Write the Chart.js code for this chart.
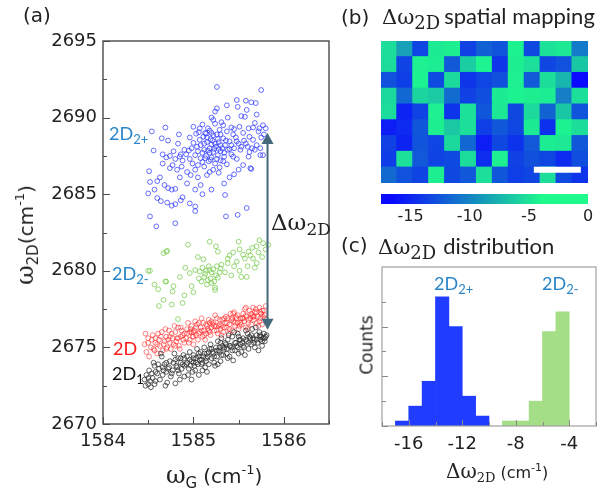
<!DOCTYPE html>
<html lang="en">
<head>
<meta charset="utf-8">
<title>Δω2D: scatter, spatial map and distribution</title>
<script src="https://cdn.jsdelivr.net/npm/chart.js@4.4.1/dist/chart.umd.min.js"></script>
<style>
html,body{margin:0;padding:0;background:#fff;}
#page{position:relative;width:613px;height:491px;overflow:hidden;background:#fff;}
#page canvas{position:absolute;}
.lbl{position:absolute;white-space:nowrap;line-height:1;color:#222;}
.lbl span{line-height:0;}
.blue{color:#2a86c9;}
.rot{transform:translate(-50%,-50%) rotate(-90deg);}
</style>
</head>
<body>
<div id="page">
  <canvas id="scatterA" width="345" height="491" style="left:0;top:0"></canvas>
  <canvas id="mapB" width="207" height="142" style="left:381px;top:41px"></canvas>
  <canvas id="barB" width="253" height="42" style="left:360px;top:188px"></canvas>
  <canvas id="histC" width="273" height="261" style="left:340px;top:230px"></canvas>

  <!-- panel letters and titles -->
  <div class="lbl" style="left:23px;top:5px;font:20px/1 'DejaVu Sans'">(a)</div>
  <div class="lbl" style="left:341px;top:7px;font:20px/1 'DejaVu Sans'">(b)</div>
  <div class="lbl" style="left:382px;top:7px;font:21px/1 'DejaVu Serif'">Δω<span style="font:18px/0 'DejaVu Serif';position:relative;top:5px">2D</span><span style="font:22px/0 Lato;margin-left:4px">spatial mapping</span></div>
  <div class="lbl" style="left:341px;top:235px;font:20px/1 'DejaVu Sans'">(c)</div>
  <div class="lbl" style="left:378px;top:237px;font:21px/1 'DejaVu Serif'">Δω<span style="font:18px/0 'DejaVu Serif';position:relative;top:5px">2D</span><span style="font:22px/0 Lato;margin-left:7px">distribution</span></div>

  <!-- panel (a) axis titles -->
  <div class="lbl rot" style="left:25px;top:235px;font:24px/1 'DejaVu Serif'">ω<span style="font:15px/0 'DejaVu Sans';position:relative;top:5px">2D</span><span style="font:20px/0 'DejaVu Sans'">(cm<span style="font:13px/0 'DejaVu Sans';position:relative;top:-9px">-1</span>)</span></div>
  <div class="lbl" style="left:166px;top:463px;font:24px/1 'DejaVu Serif'">ω<span style="font:15px/0 'DejaVu Sans';position:relative;top:5px">G</span><span style="font:20px/0 'DejaVu Sans';margin-left:6px">(cm<span style="font:13px/0 'DejaVu Sans';position:relative;top:-9px">-1</span>)</span></div>

  <!-- panel (a) series labels -->
  <div class="lbl blue" style="left:109px;top:124px;font:18px/1 Lato">2D<span style="font:13px/0 Lato;position:relative;top:4px">2+</span></div>
  <div class="lbl blue" style="left:112px;top:264px;font:18px/1 Lato">2D<span style="font:13px/0 Lato;position:relative;top:4px">2-</span></div>
  <div class="lbl" style="left:113px;top:339px;font:18px/1 Lato;color:#ff1a1a">2D</div>
  <div class="lbl" style="left:112px;top:364px;font:18px/1 Lato;color:#111">2D<span style="font:13px/0 Lato;position:relative;top:4px">1</span></div>
  <div class="lbl" style="left:271px;top:211px;font:23px/1 'DejaVu Serif'">Δω<span style="font:17px/0 'DejaVu Serif';position:relative;top:5px">2D</span></div>

  <!-- panel (c) labels -->
  <div class="lbl blue" style="left:434px;top:274px;font:18px/1 Lato">2D<span style="font:13px/0 Lato;position:relative;top:4px">2+</span></div>
  <div class="lbl blue" style="left:542px;top:274px;font:18px/1 Lato">2D<span style="font:13px/0 Lato;position:relative;top:4px">2-</span></div>
  <div class="lbl rot" style="left:367px;top:345px;font:17px/1 'DejaVu Sans'">Counts</div>
  <div class="lbl" style="left:446px;top:461px;font:20px/1 'DejaVu Serif'">Δω<span style="font:13px/0 'DejaVu Serif';position:relative;top:4px">2D</span><span style="font:16px/0 'DejaVu Sans';margin-left:5px">(cm<span style="font:11px/0 'DejaVu Sans';position:relative;top:-7px">-1</span>)</span></div>
</div>

<script>
// ---------- panel (a): 2D-band positions vs G-band position (cm-1) ----------
const pts2Dplus = [
  [1585.26,2692.0],[1585.75,2691.8],[1585.48,2691.15],[1585.58,2691.1],[1585.64,2691.0],[1585.69,2690.95],
  [1585.37,2690.8],[1585.26,2690.6],[1585.24,2690.4],[1585.49,2690.7],[1585.59,2690.5],[1585.7,2690.2],
  [1585.53,2690.1],[1585.57,2690.05],[1585.38,2690.0],[1585.2,2690.0],[1585.22,2689.85],[1585.31,2689.7],
  [1584.69,2689.35],[1584.54,2689.1],[1584.65,2688.65],[1584.72,2688.5],[1584.56,2687.85],[1584.83,2688.3],[1584.84,2688.9],
  [1585.77,2689.5],[1585.73,2689.3],[1585.72,2689.1],[1585.78,2688.9],[1585.66,2689.35],[1585.61,2689.3],
  [1585.51,2689.4],[1585.45,2689.25],[1585.55,2689.0],[1585.62,2688.75],[1585.66,2688.55],[1585.6,2688.1],
  [1585.62,2687.75],[1585.61,2687.45],[1585.74,2687.55],[1585.77,2687.55],[1585.7,2688.2],[1585.75,2688.7],[1585.68,2689.65],
  [1585.07,2689.3],[1585.06,2689.05],[1585.16,2689.3],[1585.24,2689.6],[1585.29,2689.2],[1585.37,2689.1],
  [1585.44,2688.9],[1585.11,2688.75],[1585.22,2688.85],[1584.96,2688.7],[1585.0,2689.4],[1585.03,2688.95],
  [1585.13,2689.0],[1585.19,2688.6],[1585.26,2688.9],[1585.33,2688.65],[1585.4,2688.45],[1585.47,2688.7],
  [1585.5,2688.3],[1585.35,2688.2],[1585.28,2688.4],[1585.2,2688.25],[1585.15,2688.4],[1585.08,2688.2],
  [1585.0,2688.35],[1584.98,2688.0],[1585.05,2687.8],[1585.12,2687.9],[1585.18,2687.7],[1585.23,2687.95],
  [1585.3,2687.8],[1585.38,2687.9],[1585.45,2688.0],[1585.42,2687.6],[1585.34,2687.45],[1585.27,2687.55],
  [1585.2,2687.4],[1585.14,2687.5],[1585.08,2687.35],[1585.02,2687.55],[1584.96,2687.3],[1585.1,2687.1],
  [1585.17,2687.15],[1585.24,2687.0],[1585.3,2687.2],[1585.37,2686.95],[1585.29,2686.75],[1585.22,2686.6],
  [1585.18,2686.45],[1585.28,2686.4],[1585.12,2686.8],[1585.05,2686.9],[1585.48,2687.3],[1585.52,2687.9],
  [1585.56,2688.5],[1585.42,2689.35],[1585.33,2689.5],[1585.18,2689.15],[1585.1,2689.55],[1585.25,2688.1],[1585.32,2688.0],
  [1585.15,2688.7],[1585.21,2688.5],[1585.27,2688.6],[1585.12,2688.3],[1585.18,2688.0],[1585.24,2688.3],
  [1585.3,2688.2],[1585.36,2688.5],[1585.42,2688.2],[1585.07,2688.55],[1585.04,2688.1],[1585.1,2687.7],
  [1585.16,2687.85],[1585.22,2687.75],[1585.28,2687.95],[1585.34,2687.7],[1585.4,2687.95],[1585.48,2688.45],
  [1585.53,2688.1],[1585.58,2688.3],[1585.19,2687.25],[1585.26,2687.3],[1585.13,2687.35],[1584.99,2687.0],
  [1585.33,2687.15],[1585.2,2689.0],[1585.3,2688.9],[1585.14,2688.95],[1584.86,2687.6],[1584.95,2687.85],
  [1585.44,2687.45],[1585.65,2688.0],[1585.68,2687.9],[1585.02,2686.6],[1585.15,2686.25],
  [1584.66,2687.6],[1584.7,2687.4],[1584.74,2687.5],[1584.8,2687.3],[1584.85,2687.45],[1584.88,2687.2],
  [1584.92,2687.6],[1584.9,2687.9],[1584.78,2687.8],[1584.66,2687.0],[1584.74,2686.7],[1584.77,2686.9],
  [1584.82,2686.6],[1584.87,2686.8],[1584.93,2686.45],[1584.97,2686.25],[1584.51,2686.5],[1584.52,2685.8],
  [1584.6,2685.85],[1584.63,2686.1],[1584.68,2685.6],[1584.72,2685.4],[1584.76,2685.3],[1584.8,2685.35],
  [1584.57,2685.3],[1584.5,2685.05],[1584.6,2684.75],[1584.64,2684.55],[1584.71,2684.45],[1584.76,2684.25],
  [1584.8,2684.35],[1584.86,2684.6],[1584.88,2684.8],[1584.96,2684.4],[1585.02,2684.2],[1585.05,2686.1],
  [1585.08,2685.6],[1585.1,2685.0],[1585.02,2685.3],[1585.2,2685.3],[1584.93,2685.7],[1584.85,2686.1],
  [1585.02,2683.9],[1584.52,2683.55],[1584.59,2682.9],[1584.8,2683.1],
  [1585.34,2685.7],[1585.35,2684.95],[1585.63,2686.7],[1585.64,2686.65],[1585.59,2684.1],[1585.49,2683.65],
  [1585.36,2683.55],[1585.45,2686.3],[1585.4,2686.1],[1585.55,2686.9],[1585.5,2686.6],[1585.74,2688.0],[1585.8,2689.3]
];
const pts2Dminus = [
  [1585.18,2681.9],[1585.5,2681.9],[1585.7,2681.6],[1585.77,2681.8],[1584.94,2681.7],[1584.71,2681.3],
  [1584.67,2681.15],[1585.25,2681.6],[1585.27,2681.25],[1585.05,2680.9],[1585.11,2680.75],[1585.73,2682.0],
  [1585.83,2681.7],[1585.51,2681.4],[1585.61,2681.25],[1585.4,2681.0],[1585.38,2680.8],[1584.52,2680.0],
  [1584.57,2679.1],[1584.69,2679.3],[1584.78,2679.0],[1584.85,2679.6],[1584.91,2680.2],[1584.96,2679.85],
  [1585.02,2680.05],[1585.07,2679.95],
  [1585.1,2680.2],[1585.14,2680.0],[1585.17,2680.3],[1585.2,2679.9],[1585.22,2680.1],[1585.25,2679.7],
  [1585.12,2679.6],[1585.16,2679.4],[1585.19,2679.5],[1585.23,2679.3],[1585.27,2679.55],[1585.29,2679.9],
  [1585.09,2679.3],[1585.13,2679.8],[1585.18,2680.05],[1585.26,2680.3],[1585.3,2680.15],[1585.2,2679.2],
  [1585.15,2679.1],[1585.06,2679.5],[1585.24,2678.9],
  [1585.31,2680.4],[1585.42,2679.7],[1585.51,2680.0],[1585.59,2679.6],[1585.68,2680.2],[1585.7,2680.5],
  [1585.66,2680.8],[1585.57,2680.8],[1585.53,2679.6],[1585.45,2680.3],[1585.48,2680.6],[1585.6,2680.3],
  [1585.63,2681.0],[1585.72,2681.2],[1585.76,2680.9],[1585.8,2681.4],[1585.65,2681.5],[1585.55,2681.05],
  [1585.35,2679.9],[1585.38,2680.5],[1585.44,2681.2],
  [1585.24,2678.75],[1584.98,2679.0],[1584.77,2678.65],[1584.83,2676.85],[1584.67,2678.1],[1584.76,2677.8],
  [1584.88,2677.9],[1584.5,2680.0],[1584.61,2678.8],[1584.7,2679.3],[1584.7,2681.25],[1584.9,2678.4],
  [1585.0,2678.6],[1584.62,2677.7]
];
const pts2D = [
  [1584.46,2675.2],[1584.48,2674.7],[1584.5,2675.6],[1584.51,2674.4],[1584.53,2675.0],[1584.55,2675.8],
  [1584.56,2674.9],[1584.58,2675.3],[1584.6,2674.6],[1584.47,2675.9],
  [1584.62,2675.5],[1584.63,2675.1],[1584.65,2676.0],[1584.66,2674.8],[1584.68,2675.4],[1584.7,2675.7],
  [1584.71,2675.0],[1584.73,2676.1],[1584.74,2675.3],[1584.75,2674.9],[1584.64,2675.7],[1584.69,2676.2],
  [1584.77,2675.6],[1584.78,2675.2],[1584.8,2676.0],[1584.81,2675.4],[1584.83,2676.3],[1584.84,2675.1],
  [1584.86,2675.7],[1584.87,2676.1],[1584.89,2675.5],[1584.9,2675.9],[1584.79,2676.4],[1584.85,2674.9],
  [1584.92,2675.6],[1584.93,2676.2],[1584.95,2675.3],[1584.96,2676.0],[1584.98,2676.4],[1584.99,2675.7],
  [1585.0,2675.2],[1585.01,2676.1],[1585.03,2675.8],[1585.04,2676.5],[1585.05,2675.5],[1584.94,2676.6],[1585.02,2676.7],
  [1585.07,2676.0],[1585.08,2676.3],[1585.1,2675.7],[1585.11,2676.6],[1585.12,2676.1],[1585.14,2675.9],
  [1585.15,2676.4],[1585.17,2676.8],[1585.18,2676.0],[1585.2,2676.3],[1585.13,2675.5],[1585.19,2675.8],[1585.09,2676.9],
  [1585.22,2676.6],[1585.23,2676.1],[1585.25,2676.4],[1585.26,2676.9],[1585.27,2675.9],[1585.29,2676.5],
  [1585.3,2676.2],[1585.32,2676.8],[1585.33,2676.0],[1585.35,2676.6],[1585.24,2677.1],[1585.31,2675.8],
  [1585.37,2676.3],[1585.38,2676.9],[1585.4,2676.5],[1585.41,2677.2],[1585.43,2676.1],[1585.44,2676.7],
  [1585.46,2676.4],[1585.47,2677.0],[1585.49,2676.6],[1585.5,2676.2],[1585.39,2675.9],[1585.45,2677.3],
  [1585.52,2676.9],[1585.53,2676.5],[1585.55,2677.2],[1585.56,2676.7],[1585.58,2676.3],[1585.59,2677.0],
  [1585.61,2676.8],[1585.62,2677.4],[1585.64,2676.5],[1585.65,2677.1],[1585.57,2677.5],[1585.6,2676.2],
  [1585.67,2676.8],[1585.68,2677.3],[1585.7,2676.6],[1585.71,2677.0],[1585.73,2677.6],[1585.74,2676.9],
  [1585.75,2677.2],[1585.76,2676.5],[1585.78,2677.4],[1585.79,2676.9],[1585.8,2677.7],[1585.72,2676.4],
  [1585.77,2677.0],[1585.69,2677.5],
  [1584.6,2675.2],[1584.72,2675.5],[1584.88,2675.8],[1585.0,2676.0],[1585.16,2676.2],[1585.28,2676.4],
  [1585.42,2676.8],[1585.54,2676.9],[1585.66,2677.0],[1585.06,2675.9],[1585.34,2676.3],[1585.48,2676.9],
  [1584.82,2675.6],[1584.96,2675.5],[1585.21,2676.5],[1585.36,2677.0],[1585.51,2676.4],[1585.63,2676.9],[1585.74,2677.3],
  [1584.5,2675.3],[1584.54,2675.5],[1584.57,2674.8],[1584.61,2675.9],[1584.67,2675.2],[1584.7,2674.9],
  [1584.76,2675.9],[1584.8,2675.1],[1584.83,2675.6],[1584.86,2676.3],[1584.9,2675.3],[1584.93,2675.9],
  [1584.97,2676.2],[1585.0,2675.7],[1585.03,2676.3],[1585.06,2676.6],[1585.09,2676.1],[1585.12,2675.8],
  [1585.14,2676.5],[1585.17,2676.1],[1585.2,2676.7],[1585.23,2676.4],[1585.26,2676.1],[1585.29,2676.8],
  [1585.31,2676.4],[1585.34,2676.9],[1585.37,2676.6],[1585.4,2676.2],[1585.43,2676.9],[1585.46,2676.6],
  [1585.49,2677.1],[1585.52,2676.6],[1585.55,2676.9],[1585.58,2677.1],[1585.61,2676.6],[1585.64,2677.2],
  [1585.67,2677.0],[1585.7,2677.3],[1585.73,2676.7],[1585.76,2677.4],[1585.79,2677.1],[1585.58,2677.6],
  [1585.66,2677.6],[1585.44,2677.2],[1585.18,2676.6],[1584.98,2676.0],[1584.74,2675.7],[1584.58,2675.6]
];
const pts2D1 = [
  [1584.46,2672.9],[1584.48,2673.2],[1584.5,2672.6],[1584.51,2673.5],[1584.53,2672.4],[1584.55,2673.0],
  [1584.57,2673.8],[1584.58,2672.8],[1584.6,2673.3],[1584.47,2672.5],[1584.56,2674.0],
  [1584.62,2673.6],[1584.63,2672.9],[1584.65,2674.4],[1584.66,2673.2],[1584.68,2673.9],[1584.7,2673.4],
  [1584.71,2672.7],[1584.73,2673.7],[1584.74,2674.1],[1584.75,2673.1],[1584.64,2674.6],[1584.69,2672.5],
  [1584.77,2673.5],[1584.78,2674.0],[1584.8,2672.65],[1584.81,2673.8],[1584.83,2674.3],[1584.84,2673.3],
  [1584.86,2674.0],[1584.87,2673.6],[1584.89,2674.5],[1584.9,2673.1],[1584.79,2674.6],[1584.85,2672.9],
  [1584.92,2673.9],[1584.93,2674.4],[1584.95,2673.6],[1584.96,2674.7],[1584.98,2674.1],[1584.99,2673.4],
  [1585.0,2674.5],[1585.01,2673.8],[1585.03,2674.3],[1585.04,2674.9],[1585.05,2673.9],[1584.94,2673.2],[1585.02,2673.5],
  [1585.07,2674.2],[1585.08,2674.7],[1585.1,2673.5],[1585.11,2674.4],[1585.12,2675.0],[1585.14,2674.1],
  [1585.15,2674.6],[1585.17,2673.9],[1585.18,2674.9],[1585.2,2674.3],[1585.13,2673.7],[1585.19,2675.2],[1585.09,2673.9],
  [1585.22,2674.6],[1585.23,2674.0],[1585.25,2675.0],[1585.26,2674.4],[1585.27,2675.4],[1585.29,2674.7],
  [1585.3,2674.1],[1585.32,2675.1],[1585.33,2674.5],[1585.35,2675.3],[1585.24,2673.8],[1585.31,2675.6],
  [1585.37,2674.9],[1585.38,2675.5],[1585.4,2674.4],[1585.41,2675.1],[1585.43,2675.7],[1585.44,2674.15],
  [1585.46,2674.8],[1585.47,2675.3],[1585.49,2675.9],[1585.5,2674.6],[1585.39,2675.8],[1585.45,2676.0],
  [1585.52,2675.2],[1585.53,2674.7],[1585.55,2675.6],[1585.56,2675.0],[1585.58,2676.1],[1585.59,2675.4],
  [1585.61,2674.9],[1585.62,2675.7],[1585.64,2675.2],[1585.65,2676.2],[1585.57,2674.5],[1585.6,2675.9],
  [1585.67,2675.5],[1585.68,2675.0],[1585.7,2675.8],[1585.71,2675.3],[1585.73,2676.0],[1585.74,2675.5],
  [1585.75,2675.7],[1585.76,2675.1],[1585.78,2675.9],[1585.79,2675.4],[1585.8,2675.7],[1585.72,2674.8],
  [1585.77,2675.6],[1585.69,2676.3],[1585.81,2675.8],
  [1584.58,2673.4],[1584.72,2673.6],[1584.88,2673.9],[1585.0,2674.0],[1585.16,2674.4],[1585.28,2674.8],
  [1585.42,2675.0],[1585.54,2675.3],[1585.66,2675.6],[1585.06,2674.4],[1585.34,2674.9],[1585.48,2675.1],
  [1584.82,2673.7],[1584.96,2674.2],[1585.21,2674.7],[1585.36,2675.2],[1585.51,2675.5],[1585.63,2675.6],
  [1585.74,2675.8],[1585.06,2673.2],[1584.98,2672.9],[1585.38,2674.3],
  [1584.5,2673.0],[1584.54,2673.3],[1584.57,2672.6],[1584.61,2673.9],[1584.67,2673.5],[1584.7,2674.0],
  [1584.76,2673.3],[1584.8,2674.2],[1584.83,2673.5],[1584.86,2674.3],[1584.9,2673.8],[1584.93,2674.0],
  [1584.97,2673.8],[1585.0,2674.3],[1585.03,2674.0],[1585.06,2674.6],[1585.09,2674.2],[1585.12,2674.6],
  [1585.14,2674.3],[1585.17,2674.7],[1585.2,2674.9],[1585.23,2674.4],[1585.26,2674.8],[1585.29,2675.0],
  [1585.31,2674.5],[1585.34,2675.0],[1585.37,2674.6],[1585.4,2675.1],[1585.43,2674.8],[1585.46,2675.3],
  [1585.49,2675.0],[1585.52,2675.5],[1585.55,2675.1],[1585.58,2675.5],[1585.61,2675.3],[1585.64,2675.8],
  [1585.67,2675.3],[1585.7,2675.5],[1585.73,2675.7],[1585.76,2675.4],[1585.79,2675.6],[1585.5,2675.7],
  [1585.3,2675.3],[1585.1,2674.0],[1584.9,2674.3],[1584.66,2673.7],[1584.52,2672.8],[1585.15,2673.4],[1585.27,2673.9]
];
// splitting arrow between the 2D2+ and 2D1 groups
const arrowX = 1585.82, arrowTop = 2689.0, arrowBottom = 2676.15;

// ---------- panel (b): Δω2D map, 9 rows (top to bottom) x 13 columns, cm-1 ----------
const mapColumns = ['1','2','3','4','5','6','7','8','9','10','11','12','13'];
const mapRows = [
  [-5.3, -8.5,-13.4, -4.6, -4.4,-13.6,-11.9,-12.6, -4.2,-13.2, -5.1, -4.7,-10.5],
  [-5.4,-13.5, -4.3, -4.5,-12.3, -6.2, -4.1,-14.1, -4.4, -5.2,-13.3,-12.7, -6.5],
  [-12.7,-13.7,-4.2,-13.1, -5.5,-14.2,-13.4,-12.8, -4.3,-12.2, -5.3, -7.5,-16.5],
  [-5.6,-11.5, -5.8, -6.3,-11.3,-13.6,-12.9, -4.6, -4.2, -4.4, -4.5,-10.3, -5.2],
  [-5.4,-15.2,-13.5, -4.3,-14.3, -5.1,-12.5, -4.8,-13.2, -5.5,-11.8, -6.5,-12.6],
  [-15.5,-14.8,-12.5,-4.4, -6.4, -5.2,-13.7,-12.4,-13.3, -4.6,-14.5, -4.2, -5.3],
  [-13.6,-15.1,-12.6,-13.4,-5.6,-11.6,-15.5,-13.2,-14.4,-12.3, -4.5, -4.7,-12.4],
  [-13.8, -5.1,-12.3,-13.5,-13.1,-5.4,-14.6, -4.3,-13.6,-12.8,-13.3,-14.7,-12.9],
  [-11.4,-12.7,-13.5, -4.4,-13.2,-12.4, -5.2,-12.5,-13.7,-13.4, -5.3,-13.1,-14.3]
];
const colorbarMin = -17.5, colorbarMax = 0;
const colorbarTicks = [-15, -10, -5, 0];

// ---------- panel (c): Δω2D histogram (1 cm-1 bins) ----------
const bins2Dplus = [-16.5,-15.5,-14.5,-13.5,-12.5,-11.5,-10.5];
const counts2Dplus = [1,4,9,26,20,6,2];
const bins2Dminus = [-8.5,-7.5,-6.5,-5.5,-4.5];
const counts2Dminus = [1,1,5,19,23];

// colour scale: blue -> spring green
const CMAP_LO = -16.5, CMAP_HI = -3.8;
function cmap(v){
  const t = Math.min(1, Math.max(0, (v - CMAP_LO) / (CMAP_HI - CMAP_LO)));
  return `rgb(${Math.round(10+20*t)},${Math.round(10+240*t)},${Math.round(255-115*t)})`;
}

// ticks drawn on the inside of the plot frame
function innerTicks(spec){
  return {id:'innerTicks', afterDraw(chart){
    const {ctx, chartArea:a} = chart;
    ctx.save(); ctx.strokeStyle = spec.color; ctx.lineWidth = 1; ctx.beginPath();
    for (const id of Object.keys(spec.axes)){
      const s = spec.axes[id], sc = chart.scales[id];
      sc.ticks.forEach(t => {
        const v = t.value;
        if (Math.abs(v/s.step - Math.round(v/s.step)) > 1e-6) return;
        const major = Math.abs(v/s.major - Math.round(v/s.major)) < 1e-6;
        const len = major ? spec.major : spec.minor;
        const p = Math.round(sc.getPixelForValue(v)) + 0.5;
        if (id === 'x'){ ctx.moveTo(p, a.bottom); ctx.lineTo(p, a.bottom - len); }
        else { ctx.moveTo(a.left, p); ctx.lineTo(a.left + len, p); }
      });
    }
    ctx.stroke(); ctx.restore();
  }};
}
function frame(color, width){
  return {id:'frame', afterDraw(chart){
    const {ctx, chartArea:a} = chart;
    ctx.save(); ctx.strokeStyle = color; ctx.lineWidth = width;
    ctx.strokeRect(a.left, a.top, a.right - a.left, a.bottom - a.top);
    ctx.restore();
  }};
}
const gapArrow = {id:'gapArrow', afterDatasetsDraw(chart){
  const {ctx, scales:{x, y}} = chart;
  const px = x.getPixelForValue(arrowX);
  const y1 = y.getPixelForValue(arrowTop), y2 = y.getPixelForValue(arrowBottom);
  const hw = 6, hl = 11;
  ctx.save(); ctx.strokeStyle = ctx.fillStyle = '#44687c'; ctx.lineWidth = 2;
  ctx.beginPath(); ctx.moveTo(px, y1 + hl - 1); ctx.lineTo(px, y2 - hl + 1); ctx.stroke();
  ctx.beginPath(); ctx.moveTo(px, y1); ctx.lineTo(px - hw, y1 + hl); ctx.lineTo(px + hw, y1 + hl); ctx.closePath(); ctx.fill();
  ctx.beginPath(); ctx.moveTo(px, y2); ctx.lineTo(px - hw, y2 - hl); ctx.lineTo(px + hw, y2 - hl); ctx.closePath(); ctx.fill();
  ctx.restore();
}};

const tickFont = {family:'DejaVu Sans', size:18};
const asXY = arr => arr.map(p => ({x:p[0], y:p[1]}));
const common = {responsive:false, animation:false, events:[],
  plugins:{legend:{display:false}, tooltip:{enabled:false}}};

// (a) scatter
new Chart(document.getElementById('scatterA'), {
  type:'scatter',
  data:{datasets:[
    {label:'2D1', data:asXY(pts2D1), borderColor:'rgba(45,45,45,0.75)'},
    {label:'2D', data:asXY(pts2D), borderColor:'rgba(255,15,15,0.5)'},
    {label:'2D2-', data:asXY(pts2Dminus), borderColor:'rgba(125,205,85,0.8)'},
    {label:'2D2+', data:asXY(pts2Dplus), borderColor:'rgba(45,55,255,0.72)'}
  ]},
  options:{...common,
    layout:{padding:{top:41, right:16, left:0, bottom:0}},
    elements:{point:{radius:2.4, borderWidth:1, backgroundColor:'rgba(0,0,0,0)'}},
    scales:{
      x:{type:'linear', min:1584, max:1586.5,
        grid:{display:false, drawTicks:false}, border:{display:false},
        ticks:{stepSize:0.5, autoSkip:false, maxRotation:0, minRotation:0, padding:7, color:'#222', font:tickFont,
          callback:v => Number.isInteger(v) ? String(v) : ''},
        afterFit(s){ s.height = 67; }},
      y:{type:'linear', min:2670, max:2695,
        grid:{display:false, drawTicks:false}, border:{display:false},
        ticks:{stepSize:2.5, autoSkip:false, padding:6, color:'#222', font:tickFont,
          callback:v => (v % 5 === 0) ? String(v) : ''},
        afterFit(s){ s.width = 103; }}
    }
  },
  plugins:[gapArrow, frame('#4a4a4a', 1.4),
    innerTicks({color:'#4a4a4a', major:7, minor:4, axes:{x:{step:0.5, major:1}, y:{step:2.5, major:5}}})]
});

// (b) map: each row is a stack layer of unit-height cells coloured by its Δω2D value
const mapSets = [];
for (let r = mapRows.length - 1; r >= 0; r--){
  mapSets.push({data: mapRows[r].map(() => 1), backgroundColor: mapRows[r].map(cmap)});
}
const scaleBar = {id:'scaleBar', afterDatasetsDraw(chart){
  const {ctx, chartArea:a} = chart, w = a.right - a.left, h = a.bottom - a.top;
  ctx.save(); ctx.fillStyle = '#fff';
  ctx.fillRect(a.left + w*9.6/13, a.top + h*7.97/9, w*2.95/13, h*0.38/9);
  ctx.restore();
}};
new Chart(document.getElementById('mapB'), {
  type:'bar',
  data:{labels:mapColumns, datasets:mapSets},
  options:{...common,
    layout:{padding:0},
    datasets:{bar:{barPercentage:1, categoryPercentage:1, borderWidth:0, inflateAmount:0.6}},
    scales:{x:{stacked:true, display:false}, y:{stacked:true, display:false, min:0, max:mapRows.length}}
  },
  plugins:[scaleBar]
});

// (b) colour bar
const colorbarFill = {id:'colorbarFill', beforeDatasetsDraw(chart){
  const {ctx, chartArea:a, scales:{x}} = chart;
  for (let px = Math.floor(a.left); px < a.right; px++){
    ctx.fillStyle = cmap(x.getValueForPixel(px + 0.5));
    ctx.fillRect(px, a.top, 1, a.bottom - a.top);
  }
}};
new Chart(document.getElementById('barB'), {
  type:'scatter',
  data:{datasets:[]},
  options:{...common,
    layout:{padding:{left:21, right:25, top:6, bottom:0}},
    scales:{
      x:{type:'linear', min:colorbarMin, max:colorbarMax,
        grid:{display:false, drawTicks:false}, border:{display:false},
        afterBuildTicks(s){ s.ticks = colorbarTicks.map(v => ({value:v})); },
        ticks:{autoSkip:false, maxRotation:0, padding:3, color:'#222',
          font:{family:'DejaVu Sans', size:16}, callback:v => String(v)},
        afterFit(s){ s.height = 26; }},
      y:{display:false, min:0, max:1}
    }
  },
  plugins:[colorbarFill]
});

// (c) histogram
new Chart(document.getElementById('histC'), {
  type:'bar',
  data:{datasets:[
    {label:'2D2+', data:bins2Dplus.map((b,i) => ({x:b, y:counts2Dplus[i]})), backgroundColor:'#1f3cff'},
    {label:'2D2-', data:bins2Dminus.map((b,i) => ({x:b, y:counts2Dminus[i]})), backgroundColor:'#a4de86'}
  ]},
  options:{...common,
    layout:{padding:{top:37, right:17, left:0, bottom:0}},
    datasets:{bar:{barPercentage:1, categoryPercentage:1, grouped:false, borderWidth:0}},
    scales:{
      x:{type:'linear', min:-18, max:-2, offset:false,
        grid:{display:false, drawTicks:false}, border:{display:false},
        ticks:{stepSize:2, autoSkip:false, maxRotation:0, padding:8, color:'#222', font:tickFont,
          callback:v => (v % 4 === 0) ? String(v) : ''},
        afterFit(s){ s.height = 65; }},
      y:{type:'linear', min:0, max:32,
        grid:{display:false, drawTicks:false}, border:{display:false},
        ticks:{stepSize:5, display:false},
        afterFit(s){ s.width = 42; }}
    }
  },
  plugins:[frame('#a0a0a0', 1.2),
    innerTicks({color:'#8a8a8a', major:6, minor:4, axes:{x:{step:2, major:4}, y:{step:5, major:10}}})]
});
</script>
</body>
</html>
